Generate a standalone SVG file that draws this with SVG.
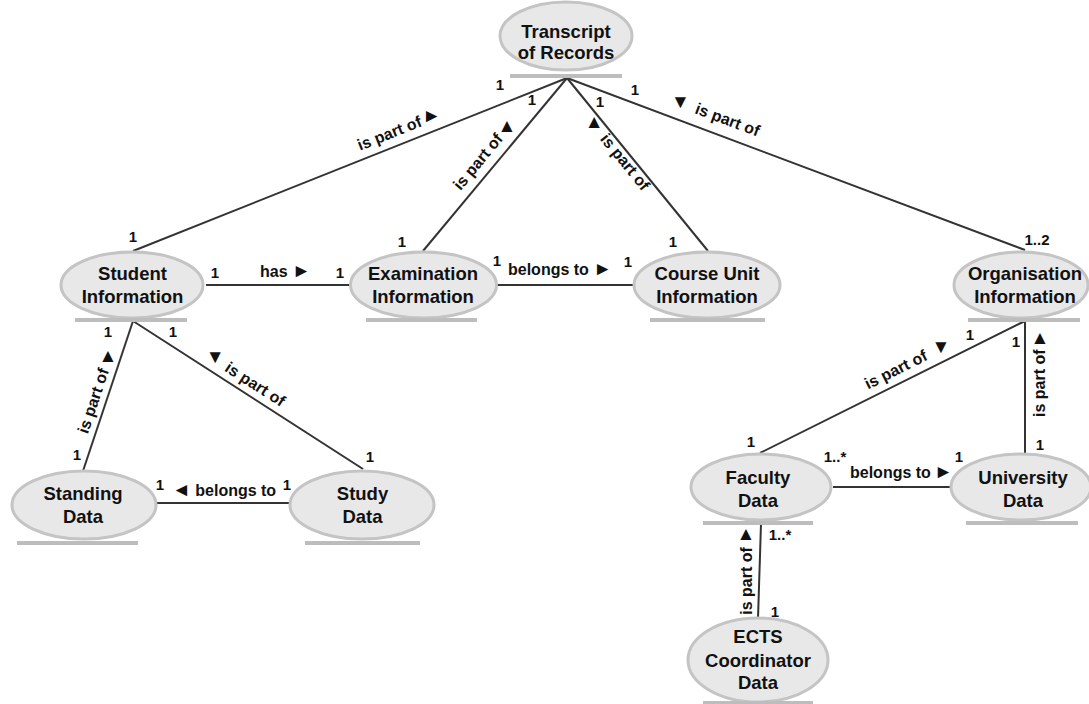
<svg xmlns="http://www.w3.org/2000/svg" width="1089" height="704" viewBox="0 0 1089 704">
<style>
.node ellipse{fill:#e8e8e8;stroke:#c4c4c4;stroke-width:3}
.ul{stroke:#bdbdbd;stroke-width:4}
.nt{font-family:"Liberation Sans",Arial,sans-serif;font-weight:bold;font-size:18.5px;text-anchor:middle;fill:#111}
.conn line{stroke:#333;stroke-width:2}
.el{font-family:"Liberation Sans",Arial,sans-serif;font-weight:bold;font-size:16px;fill:#111}
.m{font-family:"Liberation Sans",Arial,sans-serif;font-weight:bold;font-size:15px;text-anchor:middle;fill:#111}
.tri{font-family:"Liberation Sans",Arial,sans-serif;font-size:19px;text-anchor:middle;fill:#111}
.ts{font-size:19px;font-weight:normal}
</style>
<rect width="1089" height="704" fill="#fff"/>
<g id="connectors" class="conn">
  <g id="c-student-transcript">
    <line x1="567" y1="78" x2="133" y2="251"/>
    <text class="m" x="500" y="90">1</text>
    <text class="m" x="133" y="242">1</text>
    <g transform="translate(402.9,143.5) rotate(-21.73)">
      <text class="el" text-anchor="middle" x="-8.7" y="-9">is part of</text>
      <text class="tri" transform="translate(36.5,-14) rotate(21.73)" y="4.8">►</text>
    </g>
  </g>
  <g id="c-exam-transcript">
    <line x1="567" y1="78" x2="423" y2="251"/>
    <text class="m" x="532" y="105">1</text>
    <text class="m" x="402" y="247">1</text>
    <g transform="translate(494.7,164.9) rotate(-50.23)">
      <text class="el" text-anchor="middle" x="-8.2" y="-9.5">is part of</text>
      <text class="tri" transform="translate(36.6,-14.6) rotate(50.23)" y="4.8">▲</text>
    </g>
  </g>
  <g id="c-course-transcript">
    <line x1="567" y1="78" x2="708" y2="251"/>
    <text class="m" x="600" y="107">1</text>
    <text class="m" x="673" y="247">1</text>
    <g transform="translate(624.5,148.5) rotate(50.82)">
      <text class="tri" transform="translate(-39,7.5) rotate(-50.82)" y="4.8">▲</text>
      <text class="el" text-anchor="middle" x="10.8" y="13.5">is part of</text>
    </g>
  </g>
  <g id="c-org-transcript">
    <line x1="567" y1="78" x2="1025" y2="250"/>
    <text class="m" x="635" y="95">1</text>
    <text class="m" x="1037" y="245">1..2</text>
    <g transform="translate(710.8,132.1) rotate(20.58)">
      <text class="tri" transform="translate(-38.6,-16.6) rotate(-20.58)" y="4.8">▼</text>
      <text class="el" text-anchor="middle" x="11.2" y="-12">is part of</text>
    </g>
  </g>
  <g id="c-student-exam">
    <line x1="206" y1="285" x2="350" y2="285"/>
    <text class="m" x="215" y="278">1</text>
    <text class="m" x="340" y="278">1</text>
    <text class="el" x="260" y="277">has <tspan class="ts">►</tspan></text>
  </g>
  <g id="c-exam-course">
    <line x1="497" y1="285" x2="635" y2="285"/>
    <text class="m" x="497" y="266">1</text>
    <text class="m" x="628" y="267">1</text>
    <text class="el" x="508" y="275">belongs to <tspan class="ts">►</tspan></text>
  </g>
  <g id="c-standing-student">
    <line x1="133" y1="321" x2="83" y2="471"/>
    <text class="m" x="108" y="337">1</text>
    <text class="m" x="77" y="460">1</text>
    <g transform="translate(107.4,397.7) rotate(-71.57)">
      <text class="el" text-anchor="middle" x="-7.4" y="-7">is part of</text>
      <text class="tri" transform="translate(38.4,-12.2) rotate(71.57)" y="4.8">▲</text>
    </g>
  </g>
  <g id="c-study-student">
    <line x1="133" y1="321" x2="363" y2="469"/>
    <text class="m" x="173" y="337">1</text>
    <text class="m" x="370" y="462">1</text>
    <g transform="translate(239.8,389.7) rotate(32.76)">
      <text class="tri" transform="translate(-37.7,-13) rotate(-32.76)" y="4.8">▼</text>
      <text class="el" text-anchor="middle" x="10" y="-7.5">is part of</text>
    </g>
  </g>
  <g id="c-standing-study">
    <line x1="157" y1="503" x2="290" y2="503"/>
    <text class="m" x="160" y="490">1</text>
    <text class="m" x="287" y="490">1</text>
    <text class="el" x="172" y="496"><tspan class="ts">◄</tspan> belongs to</text>
  </g>
  <g id="c-faculty-org">
    <line x1="1025" y1="321" x2="760" y2="453"/>
    <text class="m" x="970" y="340">1</text>
    <text class="m" x="751" y="447">1</text>
    <g transform="translate(911.7,377.4) rotate(-26.48)">
      <text class="el" text-anchor="middle" x="-10.7" y="-8.5">is part of</text>
      <text class="tri" transform="translate(39.3,-13.3) rotate(26.48)" y="4.8">▼</text>
    </g>
  </g>
  <g id="c-university-org">
    <line x1="1025" y1="321" x2="1025" y2="453"/>
    <text class="m" x="1016" y="347">1</text>
    <text class="m" x="1040" y="450">1</text>
    <g transform="translate(1025,380) rotate(-90)">
      <text class="el" text-anchor="middle" x="-3.2" y="20">is part of</text>
      <text class="tri" transform="translate(41,15) rotate(90)" y="4.8">▲</text>
    </g>
  </g>
  <g id="c-faculty-university">
    <line x1="833" y1="487" x2="952" y2="487"/>
    <text class="m" x="835" y="462">1..*</text>
    <text class="m" x="959" y="462">1</text>
    <text class="el" x="850" y="478">belongs to<tspan class="ts" dx="3">►</tspan></text>
  </g>
  <g id="c-ects-faculty">
    <line x1="761" y1="524" x2="758" y2="618"/>
    <text class="m" x="780" y="540">1..*</text>
    <text class="m" x="775" y="617">1</text>
    <g transform="translate(760,575) rotate(-90)">
      <text class="el" text-anchor="middle" x="-6" y="-8">is part of</text>
      <text class="tri" transform="translate(40,-14) rotate(90)" y="4.8">▲</text>
    </g>
  </g>
</g>
<g id="transcript" class="node">
  <ellipse cx="566" cy="36" rx="66" ry="34"/>
  <line class="ul" x1="510" y1="76" x2="622" y2="76"/>
  <text class="nt" x="566" y="37.5">Transcript</text>
  <text class="nt" x="566" y="59">of Records</text>
</g>
<g id="student" class="node">
  <ellipse cx="132" cy="285" rx="71" ry="33"/>
  <line class="ul" x1="75" y1="320" x2="187" y2="320"/>
  <text class="nt" x="132.5" y="280">Student</text>
  <text class="nt" x="132.5" y="302.7">Information</text>
</g>
<g id="examination" class="node">
  <ellipse cx="423.5" cy="285" rx="73" ry="33"/>
  <line class="ul" x1="366" y1="320" x2="477" y2="320"/>
  <text class="nt" x="423" y="280">Examination</text>
  <text class="nt" x="423" y="302.7">Information</text>
</g>
<g id="courseunit" class="node">
  <ellipse cx="707" cy="285" rx="73" ry="33"/>
  <line class="ul" x1="650" y1="320" x2="765" y2="320"/>
  <text class="nt" x="707" y="280">Course Unit</text>
  <text class="nt" x="707" y="302.7">Information</text>
</g>
<g id="organisation" class="node">
  <ellipse cx="1021" cy="285" rx="67" ry="33"/>
  <line class="ul" x1="968" y1="320" x2="1080" y2="320"/>
  <text class="nt" x="1025" y="280">Organisation</text>
  <text class="nt" x="1025" y="303">Information</text>
</g>
<g id="standing" class="node">
  <ellipse cx="84" cy="505" rx="72" ry="34"/>
  <line class="ul" x1="17" y1="543" x2="138" y2="543"/>
  <text class="nt" x="83" y="500">Standing</text>
  <text class="nt" x="83" y="523">Data</text>
</g>
<g id="study" class="node">
  <ellipse cx="362" cy="505" rx="72" ry="34"/>
  <line class="ul" x1="305" y1="543" x2="420" y2="543"/>
  <text class="nt" x="362.5" y="500">Study</text>
  <text class="nt" x="362.5" y="523">Data</text>
</g>
<g id="faculty" class="node">
  <ellipse cx="761" cy="487" rx="70" ry="33"/>
  <line class="ul" x1="703" y1="523" x2="813" y2="523"/>
  <text class="nt" x="758" y="484">Faculty</text>
  <text class="nt" x="758" y="507">Data</text>
</g>
<g id="university" class="node">
  <ellipse cx="1021" cy="487" rx="70" ry="33"/>
  <line class="ul" x1="966" y1="523" x2="1078" y2="523"/>
  <text class="nt" x="1023" y="484">University</text>
  <text class="nt" x="1023" y="507">Data</text>
</g>
<g id="ects" class="node">
  <ellipse cx="758" cy="660" rx="70" ry="42"/>
  <line class="ul" x1="703" y1="703" x2="813" y2="703"/>
  <text class="nt" x="758" y="643.3">ECTS</text>
  <text class="nt" x="758" y="666.7">Coordinator</text>
  <text class="nt" x="758" y="689">Data</text>
</g>
</svg>
